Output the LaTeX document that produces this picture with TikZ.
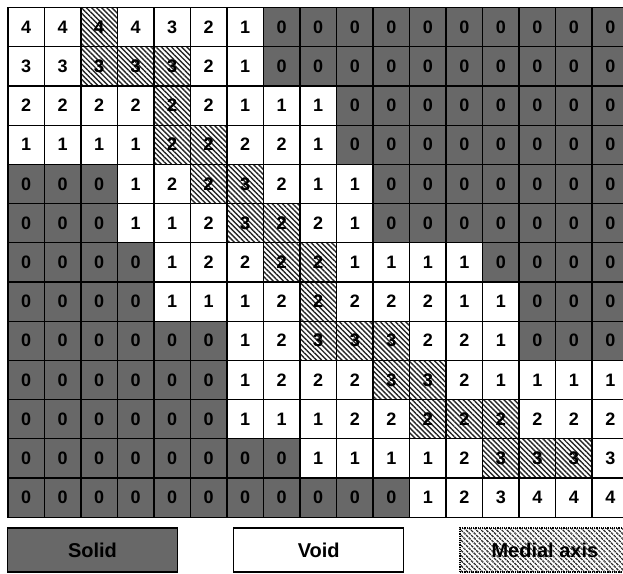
\documentclass[tikz,border=0pt]{standalone}
\usepackage{fontspec}
\setmainfont{Liberation Sans}
\usepackage{tikz}
\usetikzlibrary{positioning, patterns.meta}
\definecolor{solidgray}{RGB}{104,104,104}
\tikzset{
    cell/.style={
        rectangle,
        draw=black,
        line width=1.2pt,
        minimum width=36.5pt,
        minimum height=39.2pt,
        inner sep=0pt,
        font=\fontsize{18}{18}\selectfont\bfseries
    },
    medial/.style={
        pattern={Lines[angle=-45,distance=3.6pt,line width=1.4pt]},
        pattern color=black!85
    },
    legendbox/.style={
        rectangle,
        draw=black,
        line width=1.2pt,
        minimum width=170pt,
        minimum height=44pt,
        font=\fontsize{20}{20}\selectfont\bfseries
    }
}

\begin{document}
\begin{tikzpicture}[x=1pt, y=-1pt]
    \useasboundingbox (0,0) rectangle (623,573);

    % distance map, 0 = solid
    \foreach \row [count=\r] in {
        {4,4,4,4,3,2,1,0,0,0,0,0,0,0,0,0,0},
        {3,3,3,3,3,2,1,0,0,0,0,0,0,0,0,0,0},
        {2,2,2,2,2,2,1,1,1,0,0,0,0,0,0,0,0},
        {1,1,1,1,2,2,2,2,1,0,0,0,0,0,0,0,0},
        {0,0,0,1,2,2,3,2,1,1,0,0,0,0,0,0,0},
        {0,0,0,1,1,2,3,2,2,1,0,0,0,0,0,0,0},
        {0,0,0,0,1,2,2,2,2,1,1,1,1,0,0,0,0},
        {0,0,0,0,1,1,1,2,2,2,2,2,1,1,0,0,0},
        {0,0,0,0,0,0,1,2,3,3,3,2,2,1,0,0,0},
        {0,0,0,0,0,0,1,2,2,2,3,3,2,1,1,1,1},
        {0,0,0,0,0,0,1,1,1,2,2,2,2,2,2,2,2},
        {0,0,0,0,0,0,0,0,1,1,1,1,2,3,3,3,3},
        {0,0,0,0,0,0,0,0,0,0,0,1,2,3,4,4,4}}{
        \foreach \v [count=\c] in \row {
            \ifnum\v=0 \def\cellfill{solidgray}\else\def\cellfill{white}\fi
            \node (c-\r-\c) [cell, fill=\cellfill] at ({8+(\c-0.5)*36.5}, {7.5+(\r-0.5)*39.2}) {\v};
        }
    }

    % medial axis cells
    \foreach \r/\c/\v in {1/3/4, 2/3/3, 2/4/3, 2/5/3, 3/5/2, 4/5/2, 4/6/2,
        5/6/2, 5/7/3, 6/7/3, 6/8/2, 7/8/2, 7/9/2, 8/9/2,
        9/9/3, 9/10/3, 9/11/3, 10/11/3, 10/12/3,
        11/12/2, 11/13/2, 11/14/2, 12/14/3, 12/15/3, 12/16/3}
        \node [cell, fill=white, medial] at (c-\r-\c) {\v};

    % legend
    \node (solid) [legendbox, fill=solidgray] at (92.5, 550) {Solid};
    \node (void) [legendbox, fill=white, right=55pt of solid] {Void};
    \node (axis) [legendbox, fill=white, medial, densely dotted, right=55pt of void] {Medial axis};

\end{tikzpicture}
\end{document}
